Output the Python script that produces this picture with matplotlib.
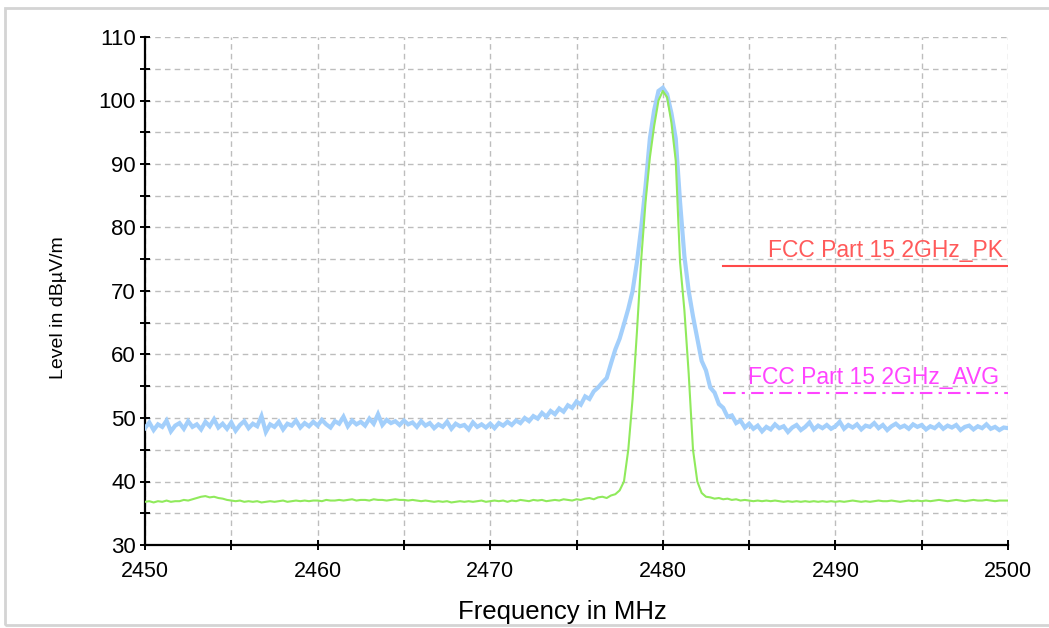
import numpy as np
import matplotlib.pyplot as plt
from matplotlib.patches import Rectangle
from matplotlib.ticker import MultipleLocator

# peak detector trace, 0.25 MHz steps from 2450 to 2500 MHz
peak_level = [
    48.4, 49.3, 48.1, 49.0, 48.6, 49.6, 47.9, 48.8, 49.2, 48.3, 49.5, 48.6, 49.0, 48.2, 49.4, 48.7, 49.8, 48.5, 49.1, 48.3,
    49.3, 48.0, 48.9, 49.5, 48.4, 49.1, 48.7, 50.3, 47.8, 49.0, 48.6, 49.4, 48.2, 49.1, 48.8, 49.6, 48.5, 49.2, 48.7, 49.4,
    48.8, 49.7, 49.0, 48.5, 49.5, 49.1, 50.2, 48.7, 49.6, 49.0, 49.4, 48.8, 49.9, 49.1, 50.6, 48.9, 49.7, 49.2, 49.5, 48.9,
    49.6, 49.0, 49.3, 48.6, 49.5, 48.8, 49.2, 48.4, 49.0, 48.6, 49.4, 48.3, 49.1, 48.7, 48.9, 48.2, 49.3, 48.6, 49.0, 48.5,
    49.1, 48.4, 49.2, 48.8, 49.4, 48.9, 49.6, 49.2, 50.0, 49.5, 50.3, 49.9, 50.8, 50.2, 51.1, 50.6, 51.5, 51.0, 52.0, 51.6,
    52.6, 52.1, 53.4, 53.0, 54.2, 54.8, 55.6, 56.3, 58.6, 60.8, 62.5, 64.8, 67.2, 70.0, 74.5, 80.0, 86.5, 94.0, 98.5, 101.5,
    102.0, 101.0, 98.0, 94.0, 84.0, 75.5, 70.0, 66.0, 62.5, 59.0, 57.5, 54.8, 54.0, 52.2, 51.6, 50.2, 50.4, 49.2, 49.6, 48.5,
    49.1, 48.3, 48.8, 47.9, 48.6, 48.2, 49.0, 48.4, 48.7, 47.8, 48.5, 48.9, 48.1, 48.6, 49.3, 48.2, 48.8, 48.4, 48.9, 48.3,
    48.7, 49.4, 48.3, 48.9, 48.5, 49.0, 48.2, 48.8, 48.6, 49.2, 48.4, 48.9, 48.1, 48.7, 49.1, 48.5, 48.8, 48.3, 49.0, 48.6,
    48.9, 48.2, 48.7, 48.4, 49.0, 48.3, 48.8, 48.5, 48.9, 48.1, 48.6, 48.8, 48.2, 48.7, 48.4, 49.0, 48.3, 48.6, 48.1, 48.5,
    48.4,
]

# average detector trace, same frequency grid
avg_level = [
    36.8, 36.9, 36.7, 36.9, 36.8, 37.0, 36.8, 36.9, 36.9, 37.1, 37.0, 37.2, 37.4, 37.6, 37.7, 37.5, 37.6, 37.4, 37.3, 37.1,
    37.0, 36.9, 37.0, 36.8, 36.9, 36.8, 36.9, 36.7, 36.8, 36.9, 36.8, 36.9, 37.0, 36.8, 36.9, 37.0, 36.9, 37.0, 36.9, 37.0,
    37.0, 36.9, 37.1, 37.0, 37.0, 37.1, 37.0, 37.1, 37.2, 37.0, 37.1, 37.1, 37.0, 37.2, 37.1, 37.1, 37.0, 37.1, 37.2, 37.1,
    37.1, 37.0, 37.1, 37.0, 36.9, 37.0, 36.9, 36.8, 36.9, 36.8, 36.9, 36.7, 36.8, 36.9, 36.8, 36.9, 36.8, 36.9, 37.0, 36.8,
    36.9, 37.0, 36.9, 37.0, 36.8, 37.0, 36.9, 37.1, 37.0, 36.9, 37.1, 37.0, 37.1, 36.9, 37.0, 37.1, 37.0, 37.2, 37.1, 37.0,
    37.2, 37.1, 37.3, 37.4, 37.2, 37.5, 37.6, 37.4, 37.8, 38.0, 38.6, 40.0, 45.0, 53.0, 63.5, 75.0, 84.0, 91.0, 96.0, 100.0,
    101.5, 100.5, 96.5, 90.5, 74.5, 67.0, 57.0, 45.0, 40.0, 38.2, 37.6, 37.5, 37.3, 37.4, 37.2, 37.3, 37.1, 37.2, 37.0, 37.1,
    37.0, 36.9, 37.0, 36.9, 37.0, 36.9, 37.0, 36.9, 36.8, 36.9, 36.8, 36.9, 36.8, 36.9, 36.8, 36.9, 36.8, 36.9, 36.8, 36.9,
    36.8, 36.9, 36.8, 36.9, 37.0, 36.9, 36.8, 36.9, 36.8, 36.9, 37.0, 36.9, 36.9, 37.0, 36.9, 36.8, 36.9, 37.0, 36.9, 37.0,
    36.9, 37.0, 36.9, 37.0, 37.1, 37.0, 36.9, 37.0, 37.1, 37.0, 36.9, 37.0, 37.1, 37.0, 37.0, 37.1, 37.0, 36.9, 37.0, 37.0,
    37.0,
]

freq = np.linspace(2450, 2500, len(peak_level))

# limit lines
limit_start = 2483.5
limit_stop = 2500
pk_limit = 74.0
avg_limit = 54.0
pk_name = 'FCC Part 15 2GHz_PK'
avg_name = 'FCC Part 15 2GHz_AVG'

plt.rcParams['font.family'] = ['Liberation Sans', 'DejaVu Sans']

fig = plt.figure(figsize=(10.49, 6.28), dpi=100)
fig.patches.append(Rectangle((5 / 1049, 3 / 628), 1.0, 617 / 628, transform=fig.transFigure,
                             fill=False, edgecolor='#d4d4d4', linewidth=2))

ax = fig.add_axes([145 / 1049, 1 - 545 / 628, 863 / 1049, 508 / 628])

ax.plot(freq, peak_level, color='#a3cffb', linewidth=3.0, solid_joinstyle='miter', zorder=3)
ax.plot(freq, avg_level, color='#90ea5c', linewidth=1.5, zorder=4)

ax.plot([limit_start, limit_stop], [pk_limit, pk_limit], color='#ff4a4a', linewidth=1.5, zorder=5)
ax.plot([limit_start, limit_stop], [avg_limit, avg_limit], color='#ff44ff', linewidth=1.5,
        linestyle=(0, (6, 3, 1.5, 3)), zorder=5)
ax.text(2499.7, pk_limit + 0.5, pk_name, color='#ff5a5a', fontsize=16.5, ha='right', va='bottom')
ax.text(2499.5, avg_limit + 0.5, avg_name, color='#ff44ff', fontsize=16.5, ha='right', va='bottom')

ax.set_xlim(2450, 2500)
ax.set_ylim(30, 110)
ax.xaxis.set_major_locator(MultipleLocator(10))
ax.xaxis.set_minor_locator(MultipleLocator(5))
ax.yaxis.set_major_locator(MultipleLocator(10))
ax.yaxis.set_minor_locator(MultipleLocator(5))

ax.grid(True, which='both', linestyle=(0, (4, 3)), color='#bdbdbd', linewidth=1)
ax.set_axisbelow(True)

for side in ['top', 'right']:
    ax.spines[side].set_visible(False)
for side in ['left', 'bottom']:
    ax.spines[side].set_linewidth(1.6)
    ax.spines[side].set_color('black')

ax.tick_params(which='both', direction='inout', length=7, width=1.4, color='black')
ax.tick_params(axis='x', which='major', labelsize=15.5, pad=8)
ax.tick_params(axis='y', which='major', labelsize=16, pad=3)

ax.set_xlabel('Frequency in MHz', fontsize=18.5, labelpad=12)
ax.set_ylabel('Level in dBµV/m', fontsize=14, labelpad=20)
ax.xaxis.set_label_coords(0.484, -0.108)
ax.yaxis.set_label_coords(-0.090, 0.468)

fig.savefig('out.png', dpi=100)
